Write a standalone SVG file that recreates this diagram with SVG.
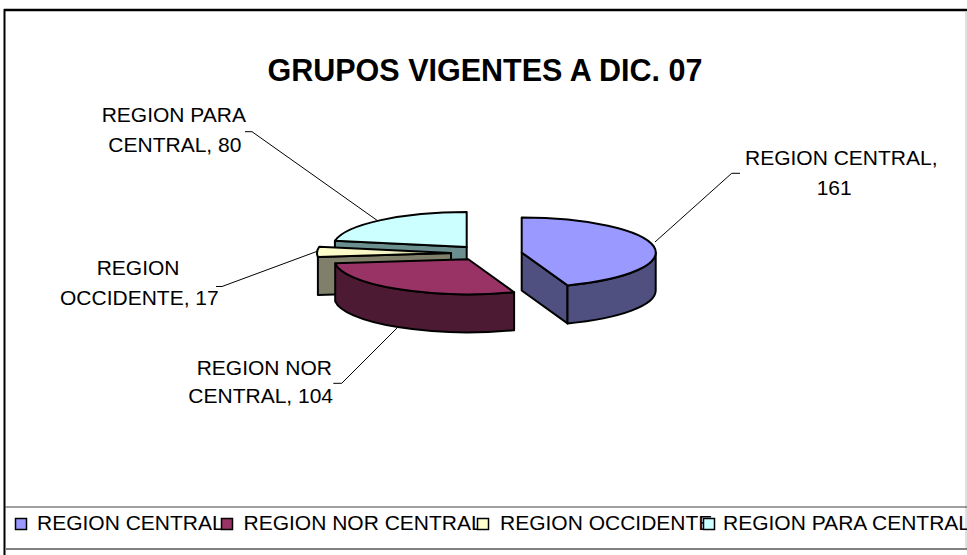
<svg xmlns="http://www.w3.org/2000/svg" width="967" height="555" viewBox="0 0 967 555">
<style>
.lbl{font-family:"Liberation Sans",Arial,sans-serif;font-size:21px;fill:#000}
.leg{font-family:"Liberation Sans",Arial,sans-serif;font-size:21px;fill:#000}
.ttl{font-family:"Liberation Sans",Arial,sans-serif;font-size:30.5px;font-weight:bold;fill:#000}
.pie{stroke:#000;stroke-width:2;stroke-linejoin:round}
.lead{fill:none;stroke:#000;stroke-width:1}
.sq{stroke:#000;stroke-width:1.5}
</style>
<defs>
<linearGradient id="occTop" x1="0" y1="0" x2="1" y2="0">
<stop offset="0" stop-color="#FFFFCC"/>
<stop offset="0.55" stop-color="#F4F4C4"/>
<stop offset="1" stop-color="#9A9A7A"/>
</linearGradient>
</defs>
<rect x="0" y="0" width="967" height="555" fill="#fff"/>
<g id="frame">
<line x1="4" y1="10" x2="967" y2="10" stroke="#000" stroke-width="2.5"/>
<line x1="4.5" y1="9" x2="4.5" y2="555" stroke="#000" stroke-width="2"/>
<line x1="966" y1="11" x2="966" y2="549" stroke="#c0c0c0" stroke-width="1"/>
<line x1="5" y1="507" x2="967" y2="507" stroke="#404040" stroke-width="1"/>
<line x1="5" y1="549" x2="967" y2="549" stroke="#808080" stroke-width="2"/>
</g>
<text id="title" class="ttl" x="485" y="81" text-anchor="middle">GRUPOS VIGENTES A DIC. 07</text>
<g id="slice-para-central">
<path class="pie" fill="#6B8E8E" d="M466.7,247 L334.9,240.7 L334.9,278.7 L466.7,285 Z"/>
<path class="pie" fill="#CCFFFF" d="M466.7,247 L334.9,240.7 A134,35 0 0 1 466.7,212 Z"/>
</g>
<g id="slice-occidente">
<path class="pie" fill="#80806A" d="M451,253 L317.9,257 L317.9,295 L451,291 Z"/>
<path class="pie" fill="url(#occTop)" d="M451,253 L317.9,257 A134,35 0 0 1 319.2,246.7 Z"/>
</g>
<g id="slice-nor-central">
<path class="pie" fill="#4D1A33" d="M514.1,292.2 A134,35 0 0 1 335.2,263.3 L335.2,301.3 A134,35 0 0 0 514.1,330.2 Z"/>
<path class="pie" fill="#993366" d="M468.3,259.3 L514.1,292.2 A134,35 0 0 1 335.2,263.3 Z"/>
</g>
<g id="slice-central">
<path class="pie" fill="#4F4F80" d="M521.7,252.5 L567.5,285.4 L567.5,323.4 L521.7,290.5 Z"/>
<path class="pie" fill="#4F4F80" d="M655.7,252.5 A134,35 0 0 1 567.5,285.4 L567.5,323.4 A134,35 0 0 0 655.7,290.5 Z"/>
<path class="pie" fill="#9999FF" d="M521.7,252.5 L521.7,217.5 A134,35 0 0 1 567.5,285.4 Z"/>
</g>
<g id="connectors">
<polyline class="lead" points="245,131.7 252,131.7 378,221"/>
<polyline class="lead" points="216,286.5 222,286.5 318,251"/>
<polyline class="lead" points="333.3,383.3 341.7,383.3 397,328"/>
<polyline class="lead" points="655,242 731.7,173.3 740,173.3"/>
</g>
<g id="label-para-central">
<text class="lbl" x="101.7" y="122.3">REGION PARA</text>
<text class="lbl" x="108.3" y="151.7">CENTRAL, 80</text>
</g>
<g id="label-occidente">
<text class="lbl" x="96.7" y="275">REGION</text>
<text class="lbl" x="60" y="305">OCCIDENTE, 17</text>
</g>
<g id="label-nor-central">
<text class="lbl" x="196.7" y="375">REGION NOR</text>
<text class="lbl" x="188.3" y="403.3">CENTRAL, 104</text>
</g>
<g id="label-central">
<text class="lbl" x="745" y="165">REGION CENTRAL,</text>
<text class="lbl" x="816.7" y="195">161</text>
</g>
<g id="legend">
<text class="leg" x="37" y="530">REGION CENTRAL</text>
<rect class="sq" x="15.5" y="518.5" width="11" height="11" fill="#9999FF"/>
<text class="leg" x="243.5" y="530">REGION NOR CENTRAL</text>
<rect class="sq" x="221.5" y="518.5" width="11" height="11" fill="#993366"/>
<text class="leg" x="500" y="530">REGION OCCIDENTE</text>
<rect class="sq" x="477.5" y="518.5" width="11" height="11" fill="#FFFFCC"/>
<text class="leg" x="723" y="530">REGION PARA CENTRAL</text>
<rect class="sq" x="703.5" y="518.5" width="11" height="11" fill="#CCFFFF"/>
</g>
</svg>
